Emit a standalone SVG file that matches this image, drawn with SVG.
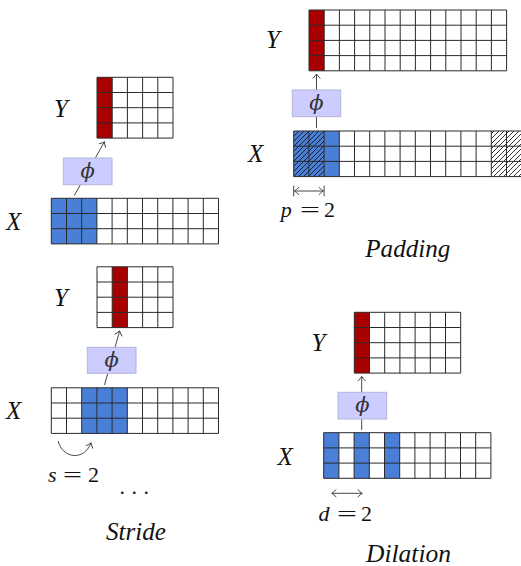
<svg xmlns="http://www.w3.org/2000/svg" width="521" height="566" viewBox="0 0 521 566">
<defs>
<style>
.bg{fill:#fff}
.grid{fill:none;stroke:#2a2a2a;stroke-width:1}
.red{fill:#a80000}
.blue{fill:#4a7fd8}
.hatch{fill:url(#hatch)}
.box{fill:#ccccff;stroke:#b4b4dc;stroke-width:1}
.conn{fill:none;stroke:#333;stroke-width:0.9}
.lbl{font-family:'Liberation Serif','DejaVu Serif',serif;font-style:italic;font-size:25px;fill:#111}
.phi{font-family:'DejaVu Serif',serif;font-style:italic;font-size:21px;fill:#333;text-anchor:middle}
.math{font-family:'Liberation Serif','DejaVu Serif',serif;font-size:22px;fill:#111}
.it{font-style:italic}
.title{font-family:'Liberation Serif','DejaVu Serif',serif;font-style:italic;font-size:25px;fill:#111}
</style>
<pattern id="hatch" patternUnits="userSpaceOnUse" width="5" height="5">
<path d="M-1,1 L1,-1 M0,5 L5,0 M4,6 L6,4" stroke="#111" stroke-width="0.85"/>
</pattern>
<marker id="ah" markerWidth="10" markerHeight="10" refX="0" refY="0" viewBox="-6 -5 8 10" orient="auto-start-reverse" markerUnits="userSpaceOnUse">
<path d="M-4.5,-3.8 Q-1.5,-1 0,0 Q-1.5,1 -4.5,3.8" fill="none" stroke="#333" stroke-width="0.9"/>
</marker>
</defs>

<g id="stride-Y">
<rect class="bg" x="97" y="77.3" width="76" height="60.8"/>
<rect class="red" x="97" y="77.3" width="15.2" height="60.8"/>
<path class="grid" d="M97,77.3H173V138.1H97Z M112.2,77.3V138.1 M127.4,77.3V138.1 M142.6,77.3V138.1 M157.8,77.3V138.1 M97,92.5H173 M97,107.7H173 M97,122.9H173"/>
<text class="lbl" x="54" y="117">Y</text>
</g>

<g id="stride-X">
<rect class="bg" x="51.3" y="198.3" width="167.2" height="45.6"/>
<rect class="blue" x="51.3" y="198.3" width="45.6" height="45.6"/>
<path class="grid" d="M51.3,198.3H218.5V243.9H51.3Z M66.5,198.3V243.9 M81.7,198.3V243.9 M96.9,198.3V243.9 M112.1,198.3V243.9 M127.3,198.3V243.9 M142.5,198.3V243.9 M157.7,198.3V243.9 M172.9,198.3V243.9 M188.1,198.3V243.9 M203.3,198.3V243.9 M51.3,213.5H218.5 M51.3,228.7H218.5"/>
<text class="lbl" x="6" y="229.5">X</text>
</g>

<g id="stride2-Y">
<rect class="bg" x="97" y="266.8" width="76" height="60.8"/>
<rect class="red" x="112.2" y="266.8" width="15.2" height="60.8"/>
<path class="grid" d="M97,266.8H173V327.6H97Z M112.2,266.8V327.6 M127.4,266.8V327.6 M142.6,266.8V327.6 M157.8,266.8V327.6 M97,282H173 M97,297.2H173 M97,312.4H173"/>
<text class="lbl" x="54" y="306">Y</text>
</g>

<g id="stride2-X">
<rect class="bg" x="51.3" y="387.8" width="167.2" height="45.6"/>
<rect class="blue" x="81.7" y="387.8" width="45.6" height="45.6"/>
<path class="grid" d="M51.3,387.8H218.5V433.4H51.3Z M66.5,387.8V433.4 M81.7,387.8V433.4 M96.9,387.8V433.4 M112.1,387.8V433.4 M127.3,387.8V433.4 M142.5,387.8V433.4 M157.7,387.8V433.4 M172.9,387.8V433.4 M188.1,387.8V433.4 M203.3,387.8V433.4 M51.3,403H218.5 M51.3,418.2H218.5"/>
<text class="lbl" x="6" y="418.5">X</text>
</g>

<g id="padding-Y">
<rect class="bg" x="309" y="10" width="197.6" height="60.8"/>
<rect class="red" x="309" y="10" width="15.2" height="60.8"/>
<path class="grid" d="M309,10H506.6V70.8H309Z M324.2,10V70.8 M339.4,10V70.8 M354.6,10V70.8 M369.8,10V70.8 M385,10V70.8 M400.2,10V70.8 M415.4,10V70.8 M430.6,10V70.8 M445.8,10V70.8 M461,10V70.8 M476.2,10V70.8 M491.4,10V70.8 M309,25.2H506.6 M309,40.4H506.6 M309,55.6H506.6"/>
<text class="lbl" x="266" y="47.5">Y</text>
</g>

<g id="padding-X">
<rect class="bg" x="293.7" y="131" width="228" height="45.6"/>
<rect class="blue" x="293.7" y="131" width="45.6" height="45.6"/>
<rect class="hatch" x="293.7" y="131" width="30.4" height="45.6"/>
<rect class="hatch" x="491.3" y="131" width="30.4" height="45.6"/>
<path class="grid" d="M293.7,131H521.7V176.6H293.7Z M308.9,131V176.6 M324.1,131V176.6 M339.3,131V176.6 M354.5,131V176.6 M369.7,131V176.6 M384.9,131V176.6 M400.1,131V176.6 M415.3,131V176.6 M430.5,131V176.6 M445.7,131V176.6 M460.9,131V176.6 M476.1,131V176.6 M491.3,131V176.6 M506.5,131V176.6 M293.7,146.2H521.7 M293.7,161.4H521.7"/>
<text class="lbl" x="248" y="162">X</text>
</g>

<g id="dilation-Y">
<rect class="bg" x="354.3" y="312.3" width="106.4" height="60.8"/>
<rect class="red" x="354.3" y="312.3" width="15.2" height="60.8"/>
<path class="grid" d="M354.3,312.3H460.7V373.1H354.3Z M369.5,312.3V373.1 M384.7,312.3V373.1 M399.9,312.3V373.1 M415.1,312.3V373.1 M430.3,312.3V373.1 M445.5,312.3V373.1 M354.3,327.5H460.7 M354.3,342.7H460.7 M354.3,357.9H460.7"/>
<text class="lbl" x="311.5" y="351">Y</text>
</g>

<g id="dilation-X">
<rect class="bg" x="323.7" y="432.7" width="167.2" height="45.6"/>
<rect class="blue" x="323.7" y="432.7" width="15.2" height="45.6"/>
<rect class="blue" x="354.1" y="432.7" width="15.2" height="45.6"/>
<rect class="blue" x="384.5" y="432.7" width="15.2" height="45.6"/>
<path class="grid" d="M323.7,432.7H490.9V478.3H323.7Z M338.9,432.7V478.3 M354.1,432.7V478.3 M369.3,432.7V478.3 M384.5,432.7V478.3 M399.7,432.7V478.3 M414.9,432.7V478.3 M430.1,432.7V478.3 M445.3,432.7V478.3 M460.5,432.7V478.3 M475.7,432.7V478.3 M323.7,447.9H490.9 M323.7,463.1H490.9"/>
<text class="lbl" x="277.5" y="464.5">X</text>
</g>

<g id="connectors">
<path class="conn" d="M74.3,195.5 L104.4,141.8" marker-end="url(#ah)"/>
<path class="conn" d="M104.5,385 L119.6,331" marker-end="url(#ah)"/>
<path class="conn" d="M316.5,128 V74" marker-end="url(#ah)"/>
<path class="conn" d="M361.7,430 V376.5" marker-end="url(#ah)"/>
<path class="conn" d="M58,441 C63,459 84,461 91,443" marker-end="url(#ah)"/>
<path class="conn" d="M294.5,191 H323.3" marker-start="url(#ah)" marker-end="url(#ah)"/>
<path class="conn" d="M293.7,185.7 V196.3 M324.1,185.7 V196.3"/>
<path class="conn" d="M331.8,493.3 H362.2" marker-start="url(#ah)" marker-end="url(#ah)"/>
</g>

<g id="phi-stride">
<rect class="box" x="63.3" y="158" width="48.7" height="26.7"/>
<text class="phi" x="87.7" y="177.5">ϕ</text>
</g>
<g id="phi-stride2">
<rect class="box" x="87.3" y="347.3" width="48.7" height="26"/>
<text class="phi" x="111.7" y="366.5">ϕ</text>
</g>
<g id="phi-padding">
<rect class="box" x="292.3" y="90" width="48.4" height="26.7"/>
<text class="phi" x="316.5" y="109.5">ϕ</text>
</g>
<g id="phi-dilation">
<rect class="box" x="338" y="392.3" width="48.7" height="26.7"/>
<text class="phi" x="362.3" y="411.9">ϕ</text>
</g>

<g id="labels">
<text class="math" y="482.3"><tspan class="it" x="48">s</tspan><tspan x="63" textLength="19" lengthAdjust="spacingAndGlyphs">=</tspan><tspan x="88">2</tspan></text>
<text class="math" x="119.5" y="494" letter-spacing="6.5">...</text>
<text class="title" x="106" y="540" textLength="60" lengthAdjust="spacingAndGlyphs">Stride</text>
<text class="math" y="216.7"><tspan class="it" x="280.7">p</tspan><tspan x="300" textLength="20" lengthAdjust="spacingAndGlyphs">=</tspan><tspan x="324">2</tspan></text>
<text class="title" x="365.3" y="257" textLength="85" lengthAdjust="spacingAndGlyphs">Padding</text>
<text class="math" y="521"><tspan class="it" x="318.5">d</tspan><tspan x="337" textLength="20" lengthAdjust="spacingAndGlyphs">=</tspan><tspan x="361">2</tspan></text>
<text class="title" x="366" y="562" textLength="85" lengthAdjust="spacingAndGlyphs">Dilation</text>
</g>
</svg>
